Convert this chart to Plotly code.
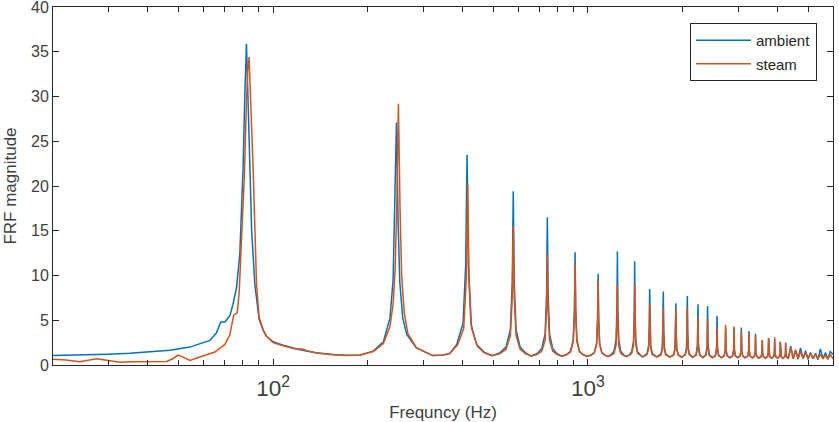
import plotly.graph_objects as go

# ---------------- data ----------------
freq_ambient = [
    20, 25, 30, 35.1, 40, 47, 54.4, 63, 66.1, 68.2, 70.3, 72.9, 74.6, 76.5, 78.4, 80.3, 81.3,
    82.3, 83.2, 84.2, 85.5, 87.5, 90.3, 93, 95.3, 100, 107.6, 121.6, 137, 155, 170, 188,
    208, 224, 235, 240.5, 243.5, 246.5, 249.5, 252.5, 258, 266, 285, 321, 345, 364,
    383, 401, 409, 413, 417, 425, 443, 468, 496,
    524, 549, 567, 575, 579, 583, 591, 609, 634, 661,
    688, 713, 731, 739, 743, 747, 755, 773, 798, 826,
    855, 880, 898, 906, 910, 914, 922, 940, 965, 993,
    1022, 1047, 1065, 1073, 1077, 1081, 1089, 1107, 1132, 1158,
    1185, 1210, 1228, 1236, 1240, 1244, 1252, 1270, 1295, 1323,
    1352, 1377, 1395, 1403, 1407, 1411, 1419, 1437, 1462, 1488,
    1515, 1540, 1558, 1566, 1570, 1574, 1582, 1600, 1625, 1652,
    1680, 1705, 1723, 1731, 1735, 1739, 1747, 1765, 1790, 1818,
    1847, 1872, 1890, 1898, 1902, 1906, 1914, 1932, 1957, 1985,
    2013, 2038, 2056, 2064, 2068, 2072, 2080, 2098, 2123, 2151,
    2205, 2227, 2235, 2243, 2265, 2316,
    2368, 2390, 2398, 2406, 2428, 2484,
    2540, 2562, 2570, 2578, 2600, 2653,
    2707, 2729, 2737, 2745, 2767, 2823,
    2880, 2902, 2910, 2918, 2940, 2990,
    3040, 3062, 3070, 3078, 3100, 3157,
    3215, 3237, 3245, 3253, 3275, 3325,
    3375, 3397, 3405, 3413, 3435, 3491,
    3547, 3569, 3577, 3585, 3607, 3661,
    3716, 3738, 3746, 3754, 3776, 3831,
    3887, 3909, 3917, 3925, 3947, 3998,
    4050, 4072, 4080, 4088, 4110, 4162,
    4215, 4237, 4245, 4253, 4275, 4325,
    4405, 4485, 4565, 4647, 4730, 4820, 4910, 5000, 5090, 5185,
    5280, 5375, 5470, 5575, 5680, 5780, 5880, 6000,
]
mag_ambient = [
    1.07, 1.12, 1.2, 1.3, 1.45, 1.64, 2.0, 2.75, 3.6, 4.8, 4.8, 5.5, 6.8, 8.6, 12.4, 22, 30,
    35.9, 30, 22, 15, 9, 5.1, 3.9, 3.2, 2.6, 2.2, 1.7, 1.37, 1.18, 1.08, 1.1,
    1.55, 2.6, 5.2, 9.5, 17, 27.1, 16, 9.3, 5.3, 3.4, 1.9, 1.05, 1.12, 1.3,
    2.3, 4.6, 11.2, 23.5, 11.2, 4.6, 2.3, 1.44, 1.05,
    1.34, 2.0, 3.93, 9.37, 19.4, 9.37, 3.93, 2.0, 1.34, 1.0,
    1.26, 1.81, 3.46, 8.08, 16.5, 8.08, 3.46, 1.81, 1.26, 0.98,
    1.17, 1.54, 2.82, 6.33, 12.6, 6.33, 2.82, 1.54, 1.17, 0.95,
    1.11, 1.38, 2.42, 5.26, 10.2, 5.26, 2.42, 1.38, 1.11, 0.95,
    1.17, 1.55, 2.83, 6.38, 12.7, 6.38, 2.83, 1.55, 1.17, 0.95,
    1.14, 1.48, 2.65, 5.89, 11.6, 5.89, 2.65, 1.48, 1.14, 0.9,
    1.06, 1.27, 2.14, 4.50, 8.5, 4.50, 2.14, 1.27, 1.06, 0.9,
    1.06, 1.25, 2.09, 4.37, 8.2, 4.37, 2.09, 1.25, 1.06, 0.88,
    1.02, 1.16, 1.88, 3.78, 6.9, 3.78, 1.88, 1.16, 1.02, 0.85,
    1.04, 1.22, 2.01, 4.14, 7.7, 4.14, 2.01, 1.22, 1.04, 0.85,
    1.16, 2.28, 6.8, 2.28, 1.16, 0.82,
    1.14, 2.23, 6.6, 2.23, 1.14, 0.82,
    1.08, 1.97, 5.5, 1.97, 1.08, 0.8,
    1.0, 1.63, 4.1, 1.63, 1.0, 0.8,
    1.0, 1.66, 4.2, 1.66, 1.0, 0.8,
    1.0, 1.66, 4.2, 1.66, 1.0, 0.8,
    0.98, 1.56, 3.8, 1.56, 0.98, 0.78,
    0.96, 1.49, 3.5, 1.49, 0.96, 0.75,
    0.92, 1.32, 2.8, 1.32, 0.92, 0.75,
    0.93, 1.37, 3.0, 1.37, 0.93, 0.75,
    0.92, 1.32, 2.8, 1.32, 0.92, 0.75,
    0.9, 1.27, 2.6, 1.27, 0.9, 0.72,
    0.9, 1.25, 2.5, 1.25, 0.9, 0.7,
    2.1, 0.7, 1.6, 0.65, 1.9, 0.7, 1.6, 0.6, 1.4, 0.7,
    1.3, 0.6, 1.8, 0.7, 1.4, 0.65, 1.5, 1.2,
]

freq_steam = [
    20, 22, 24.3, 27.5, 30, 32.6, 36, 39.6, 45.9, 48, 49.9, 52, 54.4, 57, 59.8, 65.3, 70.3,
    72.9, 75, 76.9, 78, 79.4, 81, 82.3, 83.1, 83.9, 84.8, 86.4, 88.6, 90.3, 93, 95.3, 100,
    107.6, 118, 124, 128, 137, 155, 170, 188,
    208, 224, 235, 240.5, 244, 247, 250, 253, 256, 261, 268, 285, 321, 345, 364,
    385, 403, 411, 415, 419, 427, 445, 468, 496,
    524, 549, 567, 575, 579, 583, 591, 609, 634, 661,
    688, 713, 731, 739, 743, 747, 755, 773, 798, 826,
    855, 880, 898, 906, 910, 914, 922, 940, 965, 993,
    1022, 1047, 1065, 1073, 1077, 1081, 1089, 1107, 1132, 1158,
    1185, 1210, 1228, 1236, 1240, 1244, 1252, 1270, 1295, 1323,
    1352, 1377, 1395, 1403, 1407, 1411, 1419, 1437, 1462, 1488,
    1515, 1540, 1558, 1566, 1570, 1574, 1582, 1600, 1625, 1652,
    1680, 1705, 1723, 1731, 1735, 1739, 1747, 1765, 1790, 1818,
    1847, 1872, 1890, 1898, 1902, 1906, 1914, 1932, 1957, 1985,
    2013, 2038, 2056, 2064, 2068, 2072, 2080, 2098, 2123, 2151,
    2205, 2227, 2235, 2243, 2265, 2316,
    2368, 2390, 2398, 2406, 2428, 2484,
    2540, 2562, 2570, 2578, 2600, 2653,
    2707, 2729, 2737, 2745, 2767, 2823,
    2880, 2902, 2910, 2918, 2940, 2990,
    3040, 3062, 3070, 3078, 3100, 3157,
    3215, 3237, 3245, 3253, 3275, 3325,
    3375, 3397, 3405, 3413, 3435, 3491,
    3547, 3569, 3577, 3585, 3607, 3661,
    3716, 3738, 3746, 3754, 3776, 3831,
    3887, 3909, 3917, 3925, 3947, 3998,
    4050, 4072, 4080, 4088, 4110, 4162,
    4215, 4237, 4245, 4253, 4275, 4325,
    4405, 4485, 4565, 4647, 4730, 4820, 4910, 5000, 5090, 5185,
    5280, 5375, 5470, 5575, 5680, 5780, 5880, 6000,
]
mag_steam = [
    0.63, 0.55, 0.37, 0.7, 0.5, 0.32, 0.35, 0.37, 0.4, 0.7, 1.1, 0.85, 0.52, 0.75, 1.0, 1.45, 2.3,
    3.4, 5.6, 5.8, 8.0, 13.8, 21, 29.4, 33, 34.4, 30, 22, 9, 5.3, 3.9, 3.2, 2.5,
    2.15, 1.8, 1.8, 1.6, 1.35, 1.15, 1.05, 1.08,
    1.5, 2.4, 4.3, 6.8, 10.5, 17.5, 29.2, 17.5, 10, 5.8, 3.5, 1.95, 1.05, 1.1, 1.28,
    2.21, 4.08, 9.8, 20.3, 9.8, 4.08, 2.1, 1.36, 1.05,
    1.24, 1.74, 3.29, 7.63, 15.5, 7.63, 3.29, 1.74, 1.24, 1.0,
    1.16, 1.53, 2.78, 6.24, 12.4, 6.24, 2.78, 1.53, 1.16, 0.98,
    1.14, 1.46, 2.62, 5.80, 11.4, 5.80, 2.62, 1.46, 1.14, 0.97,
    1.09, 1.33, 2.29, 4.90, 9.4, 4.90, 2.29, 1.33, 1.09, 0.95,
    1.07, 1.30, 2.21, 4.68, 8.9, 4.68, 2.21, 1.30, 1.07, 0.95,
    1.08, 1.30, 2.23, 4.72, 9.0, 4.72, 2.23, 1.30, 1.08, 0.92,
    1.02, 1.16, 1.87, 3.74, 6.8, 3.74, 1.87, 1.16, 1.02, 0.9,
    1.01, 1.13, 1.80, 3.56, 6.4, 3.56, 1.80, 1.13, 1.01, 0.9,
    1.01, 1.12, 1.77, 3.47, 6.2, 3.47, 1.77, 1.12, 1.01, 0.88,
    1.01, 1.13, 1.80, 3.56, 6.4, 3.56, 1.80, 1.13, 1.01, 0.88,
    1.08, 1.92, 5.3, 1.92, 1.08, 0.85,
    1.07, 1.90, 5.2, 1.90, 1.07, 0.85,
    1.02, 1.66, 4.2, 1.66, 1.02, 0.85,
    1.04, 1.73, 4.5, 1.73, 1.04, 0.85,
    1.03, 1.68, 4.3, 1.68, 1.03, 0.85,
    1.0, 1.56, 3.8, 1.56, 1.0, 0.85,
    0.99, 1.51, 3.6, 1.51, 0.99, 0.85,
    0.96, 1.42, 3.2, 1.42, 0.96, 0.8,
    0.94, 1.32, 2.8, 1.32, 0.94, 0.8,
    0.95, 1.37, 3.0, 1.37, 0.95, 0.8,
    0.96, 1.39, 3.1, 1.39, 0.96, 0.8,
    0.93, 1.27, 2.6, 1.27, 0.93, 0.8,
    0.92, 1.23, 2.4, 1.23, 0.92, 0.75,
    1.9, 0.75, 1.7, 0.7, 1.5, 0.75, 1.4, 0.7, 1.3, 0.75,
    1.2, 0.7, 1.2, 0.7, 1.1, 0.65, 1.2, 0.7,
]

series_names = ["ambient", "steam"]
series_colors = ["#0072BD", "#D95319"]
x_title = "Frequncy (Hz)"
y_title = "FRF magnitude"
y_ticks = [0, 5, 10, 15, 20, 25, 30, 35, 40]

# ---------------- figure ----------------
axis_color = "#262626"
text_color = "#404040"
font_family = "Liberation Sans, Arial, Helvetica, sans-serif"

fig = go.Figure()
fig.add_trace(go.Scatter(x=freq_ambient, y=mag_ambient, mode="lines", name=series_names[0],
                         legendgroup="g1",
                         line=dict(color=series_colors[0], width=1.5)))
fig.add_trace(go.Scatter(x=freq_steam, y=mag_steam, mode="lines", name=series_names[1],
                         legendgroup="g2",
                         line=dict(color=series_colors[1], width=1.5)))

fig.update_layout(
    width=839, height=422,
    margin=dict(l=53, r=6, t=7, b=57),
    paper_bgcolor="white", plot_bgcolor="white",
    font=dict(family=font_family, size=16, color=text_color),
    showlegend=True,
    legend=dict(
        x=0.9795, y=0.955, xanchor="right", yanchor="top",
        bgcolor="white", bordercolor=axis_color, borderwidth=1,
        font=dict(size=15, color="#262626"), itemwidth=55,
        tracegroupgap=1,
    ),
)
fig.update_xaxes(
    type="log", range=[1.30103, 3.77815],
    dtick=1, exponentformat="power",
    showline=True, linecolor=axis_color, linewidth=1, mirror="allticks",
    ticks="inside", ticklen=6, tickcolor=axis_color,
    minor=dict(ticks="inside", ticklen=5, tickcolor=axis_color, dtick="D1", showgrid=False),
    showgrid=False, zeroline=False,
    automargin=False,
    ticklabelstandoff=4,
    title=dict(text=x_title, font=dict(size=17, color=text_color), standoff=8),
    tickfont=dict(size=18, color=text_color),
)
fig.update_yaxes(
    range=[0, 40], tickvals=y_ticks,
    showline=True, linecolor=axis_color, linewidth=1, mirror="allticks",
    ticks="inside", ticklen=6, tickcolor=axis_color,
    showgrid=False, zeroline=False,
    automargin=False,
    ticklabeloverflow="allow",
    title=dict(text=y_title, font=dict(size=17, color=text_color), standoff=10),
    tickfont=dict(size=16, color=text_color),
)

fig.write_html("out.html")
